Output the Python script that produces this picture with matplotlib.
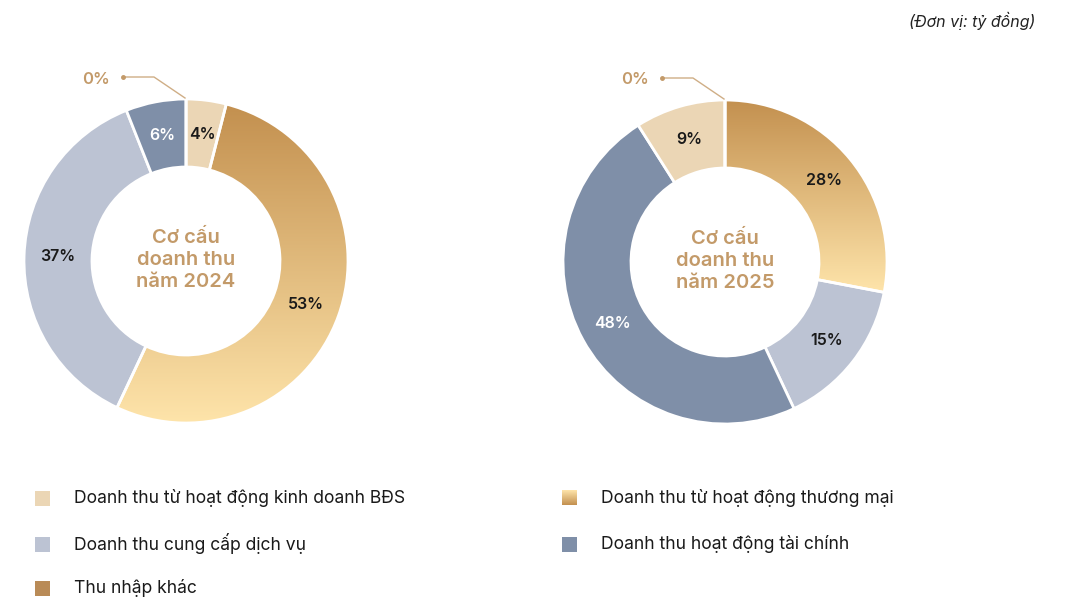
import numpy as np
import matplotlib
matplotlib.use('Agg')
import matplotlib.pyplot as plt
from matplotlib.colors import LinearSegmentedColormap
from matplotlib.patches import Rectangle

plt.rcParams['font.family'] = ['Inter', 'DejaVu Sans']

# Data
categories = [
    'Doanh thu từ hoạt động kinh doanh BĐS',
    'Doanh thu từ hoạt động thương mại',
    'Doanh thu cung cấp dịch vụ',
    'Doanh thu hoạt động tài chính',
    'Thu nhập khác',
]
share_2024 = [4, 53, 37, 6, 0]
share_2025 = [9, 28, 15, 48, 0]
years = ['2024', '2025']
# clockwise drawing order from 12 o'clock (category indices)
order_2024 = [0, 1, 2, 3, 4]
order_2025 = [1, 2, 3, 0, 4]

colors = ['#ebd6b5', '#d9ad6e', '#bcc3d3', '#7f8fa8', '#b98b57']
grad_top, grad_bottom = '#c3904f', '#fee4aa'
label_colors = ['#1a1a1a', '#1a1a1a', '#1a1a1a', '#ffffff', '#1a1a1a']
accent = '#c39a69'

W, H = 1071, 600
fig = plt.figure(figsize=(W / 100, H / 100), dpi=100)
ax = fig.add_axes([0, 0, 1, 1])

R, r_in = 162, 94
centers = [(186, H - 261), (725, H - 262)]
grad_cmap = LinearSegmentedColormap.from_list('gold', [grad_top, grad_bottom])


def donut(shares, order, center, year):
    cx, cy = center
    vals = [shares[k] for k in order]
    cols = [colors[k] for k in order]
    wedges, _ = ax.pie(vals, center=center, radius=R, startangle=90,
                       counterclock=False, colors=cols,
                       wedgeprops=dict(width=R - r_in, edgecolor='white', linewidth=2))
    for ww in wedges:
        ww.set_zorder(2)
    # gradient fill on the trade wedge
    w = wedges[order.index(1)]
    ext = w.get_path().get_extents()
    img = ax.imshow(np.linspace(0, 1, 256).reshape(-1, 1), cmap=grad_cmap,
                    extent=(ext.x0, ext.x1, ext.y0, ext.y1), origin='upper',
                    aspect='auto', zorder=1)
    img.set_clip_path(w)
    w.set_facecolor('none')
    w.set_zorder(3)

    total = sum(vals)
    start = 90.0
    for k, v in zip(order, vals):
        span = 360.0 * v / total
        mid = np.deg2rad(start - span / 2)
        if v > 0:
            rm = (R + r_in) / 2
            ax.text(cx + rm * np.cos(mid), cy + rm * np.sin(mid), f'{v}%',
                    ha='center', va='center', fontsize=11.5, fontweight='semibold',
                    color=label_colors[k], zorder=5)
        else:
            px, py = cx + R * np.cos(mid), cy + R * np.sin(mid)
            xs = [px - 1, px - 32, px - 63]
            ys = [py + 1, py + 22, py + 22]
            ax.plot(xs, ys, color='#cfae86', lw=1, zorder=4)
            ax.plot(xs[-1], ys[-1], 'o', ms=2.5, color='#c39a69', zorder=4)
            ax.text(xs[-1] - 13, ys[-1] - 2, f'{v}%', ha='right', va='center',
                    fontsize=12, fontweight='semibold', color=accent)
        start -= span

    ax.text(cx, cy + 1, f'Cơ cấu\ndoanh thu\nnăm {year}', ha='center', va='center',
            fontsize=14.5, fontweight='semibold', color=accent, linespacing=1.3,
            zorder=5)


donut(share_2024, order_2024, centers[0], years[0])
donut(share_2025, order_2025, centers[1], years[1])

ax.text(1035, H - 21, '(Đơn vị: tỷ đồng)', ha='right', va='center',
        fontsize=11.5, style='italic', color='#222222')

# legend
leg_pos = [(42, 498), (569, 498), (42, 544), (569, 544), (42, 588)]
sq = 15
for i, (name, (lx, ly)) in enumerate(zip(categories, leg_pos)):
    y = H - ly
    if i == 1:
        ax.imshow(np.linspace(0, 1, 64).reshape(-1, 1), cmap=grad_cmap,
                  extent=(lx - sq / 2, lx + sq / 2, y - sq / 2, y + sq / 2),
                  origin='lower', aspect='auto', zorder=2)
    else:
        ax.add_patch(Rectangle((lx - sq / 2, y - sq / 2), sq, sq,
                               facecolor=colors[i], edgecolor='none'))
    ax.text(lx + 32, y, name, ha='left', va='center', fontsize=12.6,
            color='#1a1a1a')

ax.set_xlim(0, W)
ax.set_ylim(0, H)
ax.axis('off')

fig.savefig('out.png', dpi=100, facecolor='white')
